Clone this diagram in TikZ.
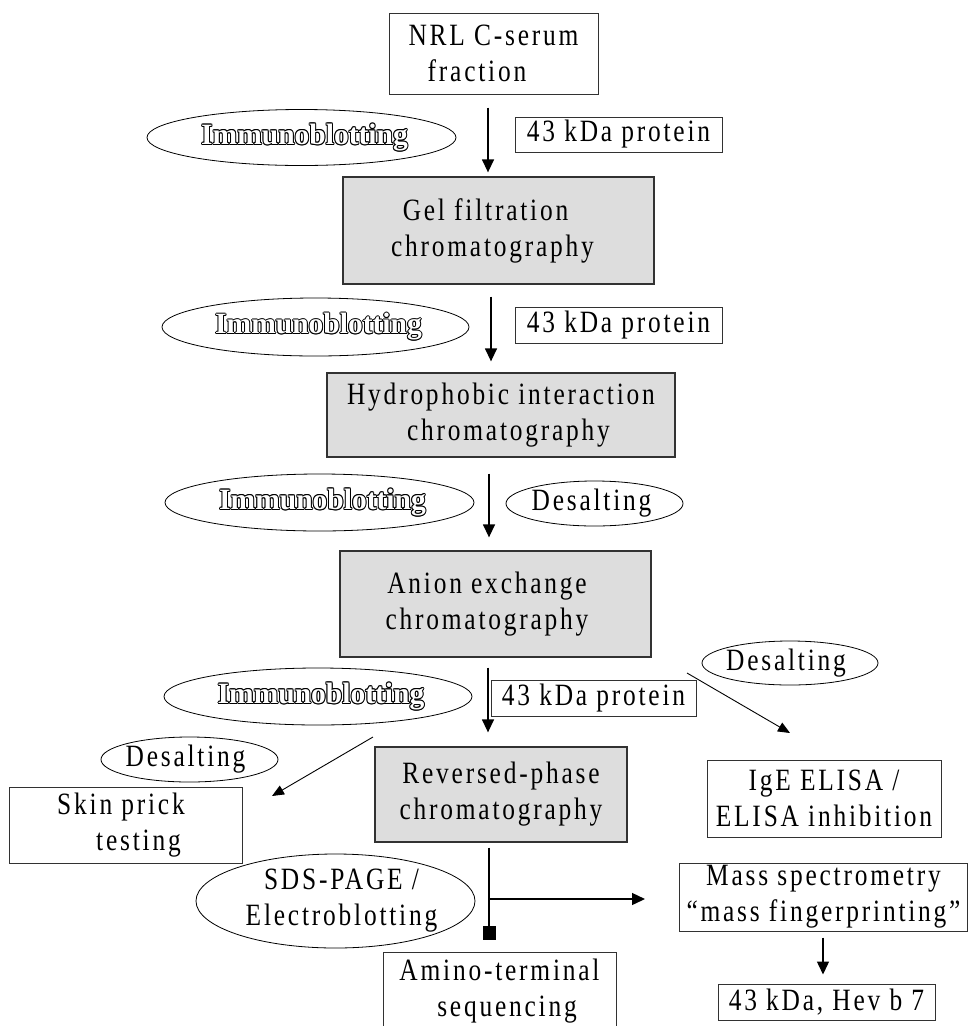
\documentclass[tikz,border=0pt]{standalone}
\usepackage{fontspec}
\setmainfont{Liberation Serif}
\newfontfamily\tf[FakeStretch=0.82,LetterSpace=9]{Liberation Serif}
\newfontfamily\hf[BoldFont={Liberation Serif Bold}]{Liberation Serif}
\usetikzlibrary{shapes.geometric,arrows.meta}
\newcommand\hollow[1]{\leavevmode
  \rlap{\kern-1pt#1}\rlap{\kern1pt#1}%
  \rlap{\raisebox{1pt}{#1}}\rlap{\raisebox{-1pt}{#1}}%
  \rlap{\kern-.7pt\raisebox{.7pt}{#1}}\rlap{\kern.7pt\raisebox{.7pt}{#1}}%
  \rlap{\kern-.7pt\raisebox{-.7pt}{#1}}\rlap{\kern.7pt\raisebox{-.7pt}{#1}}%
  \textcolor{white}{#1}}
\newcommand\zb[1]{\makebox[0pt]{#1}}
\definecolor{boxgray}{RGB}{221,221,221}
\definecolor{edge}{RGB}{50,50,50}
\begin{document}
\begin{tikzpicture}[x=1pt,y=-1pt,
  box/.style={draw=edge, line width=1pt, fill=white, inner sep=0pt, align=center,
    font=\tf\fontsize{31}{36}\selectfont},
  gbox/.style={box, fill=boxgray, line width=1.3pt},
  oval/.style={ellipse, draw, line width=0.8pt, inner sep=0pt, align=center,
    font=\tf\fontsize{31}{36}\selectfont},
  imm/.style={oval, font=\hf\bfseries\fontsize{29.5}{36}\selectfont},
  arr/.style={line width=1.4pt, -{Triangle[length=13pt,width=12pt]}},
  darr/.style={line width=0.9pt, -{Triangle[length=12pt,width=10pt]}}]
\useasboundingbox (0,0) rectangle (968,1026);
\clip (0,0) rectangle (968,1026);
\fill[white] (0,0) rectangle (968,1026);

% nodes
\node[box, minimum width=209pt, minimum height=81pt] (nrl) at (493.5,53.5) {NRL C-serum\\fraction\hspace*{33pt}};
\node[box, minimum width=207pt, minimum height=35pt] (kda1) at (618.5,134.5) {43 kDa protein};
\node[imm, minimum width=309pt, minimum height=56pt] (imm1) at (301.5,137.5) {\zb{\hspace*{6pt}\hollow{Immunoblotting}}};
\node[gbox, minimum width=311pt, minimum height=107pt] (gel) at (498.5,230.5) {Gel filtration\hspace*{26pt}\\chromatography\hspace*{12pt}};
\node[imm, minimum width=307pt, minimum height=58pt] (imm2) at (315.5,327) {\zb{\hspace*{6pt}\hollow{Immunoblotting}}};
\node[box, minimum width=207pt, minimum height=36pt] (kda2) at (618.5,325) {43 kDa protein};
\node[gbox, minimum width=348pt, minimum height=84pt] (hyd) at (501,415) {Hydrophobic interaction\\\hspace*{15pt}chromatography};
\node[imm, minimum width=309pt, minimum height=57pt] (imm3) at (319.5,502.5) {\zb{\hspace*{6pt}\hollow{Immunoblotting}}};
\node[oval, minimum width=177pt, minimum height=45pt] (des1) at (594.5,503.5) {\zb{Desalting\hspace*{6pt}}};
\node[gbox, minimum width=311pt, minimum height=106pt] (anion) at (495.5,604) {Anion exchange\hspace*{17pt}\\chromatography\hspace*{17pt}};
\node[oval, minimum width=176pt, minimum height=44pt] (des2) at (790,663) {\zb{Desalting\hspace*{8pt}}};
\node[imm, minimum width=308pt, minimum height=57pt] (imm4) at (318,696.5) {\zb{\hspace*{6pt}\hollow{Immunoblotting}}};
\node[box, minimum width=205pt, minimum height=36pt] (kda3) at (593.5,698) {43 kDa protein};
\node[oval, minimum width=177pt, minimum height=45pt] (des3) at (189.5,759.5) {\zb{Desalting\hspace*{8pt}}};
\node[box, minimum width=233pt, minimum height=76pt] (skin) at (125.5,825) {Skin prick\hspace*{9pt}\\\hspace*{26pt}testing};
\node[gbox, minimum width=252pt, minimum height=95pt] (rev) at (501,794.5) {Reversed-phase\\chromatography};
\node[box, minimum width=234pt, minimum height=77pt] (ige) at (824,798.5) {IgE ELISA /\\ELISA inhibition};
\node[oval, minimum width=279pt, minimum height=94pt] (sds) at (335.5,901) {\zb{\hspace*{12pt}SDS-PAGE /}\\\zb{\hspace*{12pt}Electroblotting}};
\node[box, minimum width=288pt, minimum height=68pt] (mass) at (823.5,897) {Mass spectrometry\\“mass fingerprinting”};
\node[box, minimum width=217pt, minimum height=36pt] (hev) at (826.5,1002) {43 kDa, Hev b 7};
\node[box, minimum width=233pt, minimum height=78pt] (amino) at (499.5,991) {Amino-terminal\\\hspace*{15pt}sequencing};

% connectors
\coordinate (x1) at (488,0);
\coordinate (x2) at (491,0);
\coordinate (x3) at (489,0);
\coordinate (x4) at (488,0);
\coordinate (x5) at (489,0);
\coordinate (x6) at (823,0);
\draw[arr, shorten <=13pt, shorten >=4pt] (nrl.south -| x1) -- (gel.north -| x1);
\draw[arr, shorten <=12pt, shorten >=11pt] (gel.south -| x2) -- (hyd.north -| x2);
\draw[arr, shorten <=16pt, shorten >=13pt] (hyd.south -| x3) -- (anion.north -| x3);
\draw[arr, shorten <=10pt, shorten >=14pt] (anion.south -| x4) -- (rev.north -| x4);
\draw[line width=1.6pt, -{Square[length=14pt,width=13pt]}, shorten <=5pt, shorten >=12pt] (rev.south -| x5) -- (amino.north -| x5);
\coordinate (br) at (489,899);
\draw[arr, shorten >=34pt] (br) -- (br -| mass.west);
\draw[arr, shorten <=6pt, shorten >=9pt] (mass.south -| x6) -- (hev.north -| x6);
\coordinate (d1s) at (687,673);
\coordinate (d1e) at (790,733);
\draw[darr] (d1s) -- (d1e);
\coordinate (d2s) at (373,737);
\coordinate (d2e) at (272,796);
\draw[darr] (d2s) -- (d2e);
\end{tikzpicture}
\end{document}
